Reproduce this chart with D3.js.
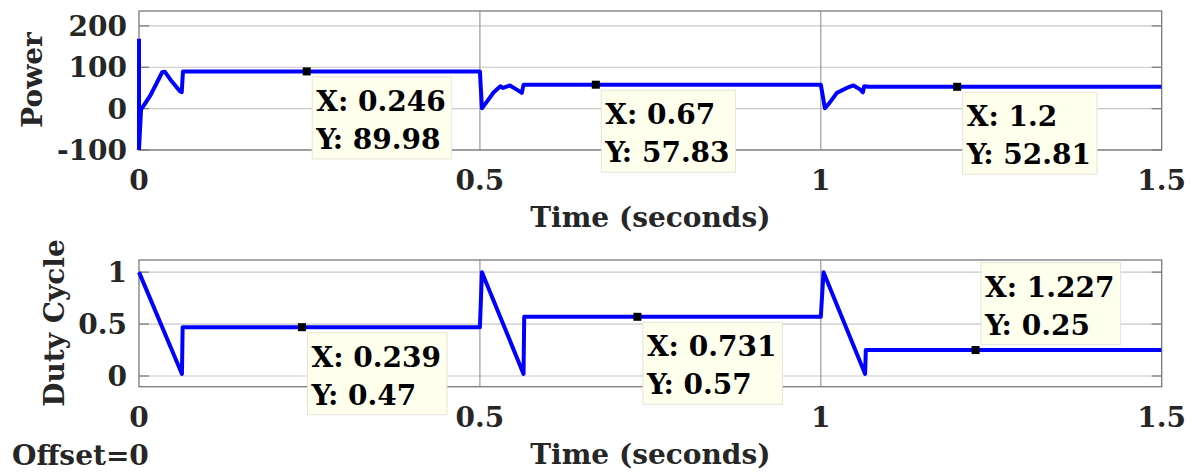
<!DOCTYPE html>
<html>
<head>
<meta charset="utf-8">
<script src="https://cdn.jsdelivr.net/npm/d3@7/dist/d3.min.js"></script>
<style>
  html, body { margin: 0; padding: 0; background: #fff; }
  svg { display: block; }
  text { font-family: "DejaVu Serif", serif; font-weight: bold; }
</style>
</head>
<body>
<svg id="chart" width="1192" height="472"></svg>
<script>
// ---------- data ----------
const xTicks = [0, 0.5, 1, 1.5];
const xTickLabels = ["0", "0.5", "1", "1.5"];

const powerTicks = [-100, 0, 100, 200];
const powerTickLabels = ["-100", "0", "100", "200"];
const powerT = [0, 0, 0.003, 0.008, 0.016, 0.026, 0.034, 0.038, 0.048, 0.060, 0.0627, 0.0645, 0.5, 0.503, 0.509, 0.520, 0.530, 0.534, 0.544, 0.554, 0.5615, 0.564, 1.0, 1.006, 1.012, 1.0235, 1.038, 1.048, 1.058, 1.0617, 1.0637, 1.07, 1.5];
const powerV = [169, -100, -2, 10, 30, 62, 88, 89, 66, 42, 40, 89.98, 89.98, 1, 14, 39, 54, 50, 56, 46, 38, 57.83, 57.83, 1, 12, 38, 50, 56, 46, 39.5, 54, 52.81, 52.81];

const dutyTicks = [0, 0.5, 1];
const dutyTickLabels = ["0", "0.5", "1"];
const dutyT = [0, 0.063, 0.064, 0.5, 0.503, 0.564, 0.565, 1.0, 1.004, 1.065, 1.066, 1.5];
const dutyV = [1, 0.02, 0.47, 0.47, 1, 0.02, 0.57, 0.57, 1, 0.02, 0.25, 0.25];

const powerTipX = [0.246, 0.67, 1.2];
const powerTipY = [89.98, 57.83, 52.81];
const powerTipXLabel = ["0.246", "0.67", "1.2"];
const powerTipYLabel = ["89.98", "57.83", "52.81"];

const dutyTipX = [0.239, 0.731, 1.227];
const dutyTipY = [0.47, 0.57, 0.25];
const dutyTipXLabel = ["0.239", "0.731", "1.227"];
const dutyTipYLabel = ["0.47", "0.57", "0.25"];

// ---------- layout ----------
const svg = d3.select("#chart");
const FS = 28;
const left = 139, right = 1161.7;

function panel(cfg) {
  const x = d3.scaleLinear().domain([0, 1.5]).range([left, right]);
  const y = d3.scaleLinear().domain(cfg.yDomain).range([cfg.bottom, cfg.top]);
  const g = svg.append("g");

  g.selectAll(".hg").data(cfg.yTicks).enter().append("line")
    .attr("x1", left).attr("x2", right)
    .attr("y1", d => y(d)).attr("y2", d => y(d))
    .attr("stroke", "#c8c8c8").attr("stroke-width", 1.2);
  g.selectAll(".vg").data(xTicks.slice(1, -1)).enter().append("line")
    .attr("x1", d => x(d)).attr("x2", d => x(d))
    .attr("y1", cfg.top).attr("y2", cfg.bottom)
    .attr("stroke", "#9a9a9a").attr("stroke-width", 1.2);

  g.selectAll(".rt").data(cfg.yTicks).enter().append("line")
    .attr("x1", right - 10).attr("x2", right)
    .attr("y1", d => y(d)).attr("y2", d => y(d))
    .attr("stroke", "#777").attr("stroke-width", 1.2);
  g.selectAll(".lt").data(cfg.yTicks).enter().append("line")
    .attr("x1", left).attr("x2", left + 10)
    .attr("y1", d => y(d)).attr("y2", d => y(d))
    .attr("stroke", "#777").attr("stroke-width", 1.2);

  g.append("rect").attr("x", left).attr("y", cfg.top)
    .attr("width", right - left).attr("height", cfg.bottom - cfg.top)
    .attr("fill", "none").attr("stroke", "#7a7a7a").attr("stroke-width", 1.3);

  const clipId = "clip" + cfg.id;
  svg.append("clipPath").attr("id", clipId).append("rect")
    .attr("x", left - 3).attr("y", cfg.top).attr("width", right - left + 3).attr("height", cfg.bottom - cfg.top);
  const line = d3.line().x(d => x(d[0])).y(d => y(d[1]));
  g.append("path").datum(d3.zip(cfg.t, cfg.v))
    .attr("clip-path", `url(#${clipId})`)
    .attr("d", line).attr("fill", "none")
    .attr("stroke", "#0000ff").attr("stroke-width", cfg.lw)
    .attr("stroke-linejoin", "round");

  g.selectAll(".xl").data(xTicks).enter().append("text")
    .attr("x", d => x(d)).attr("y", cfg.bottom + 40)
    .attr("text-anchor", "middle").attr("font-size", FS).attr("fill", "#262626")
    .text((d, i) => xTickLabels[i]);
  g.selectAll(".yl").data(cfg.yTicks).enter().append("text")
    .attr("x", 127).attr("y", d => y(d) + 10)
    .attr("text-anchor", "end").attr("font-size", FS).attr("fill", "#262626")
    .text((d, i) => cfg.yTickLabels[i]);

  g.append("text").attr("x", (left + right) / 2).attr("y", cfg.bottom + 77)
    .attr("text-anchor", "middle").attr("font-size", FS).attr("fill", "#262626")
    .text("Time (seconds)");
  g.append("text")
    .attr("transform", `translate(${cfg.ylabX},${cfg.ylabY}) rotate(-90)`)
    .attr("text-anchor", "middle").attr("font-size", FS).attr("fill", "#262626")
    .text(cfg.ylabel);

  cfg.tipX.forEach((tx, i) => {
    const mx = x(tx), my = y(cfg.tipY[i]);
    const above = cfg.above[i];
    const tg = g.append("g");
    const r = tg.append("rect");
    const t1 = tg.append("text").attr("font-size", FS).attr("fill", "#000").text("X: " + cfg.tipXL[i]);
    const t2 = tg.append("text").attr("font-size", FS).attr("fill", "#000").text("Y: " + cfg.tipYL[i]);
    const w = Math.max(t1.node().getComputedTextLength(), t2.node().getComputedTextLength()) + 10;
    const h = 82;
    const bx = mx + 5.5;
    const by = above ? my - 5.5 - h : my + 5.5;
    r.attr("x", bx).attr("y", by).attr("width", w).attr("height", h)
      .attr("fill", "#ffffee").attr("stroke", "#e4e4d8").attr("stroke-width", 1);
    t1.attr("x", bx + 4).attr("y", by + 34);
    t2.attr("x", bx + 4).attr("y", by + 72);
    g.append("rect").attr("x", mx - 4).attr("y", my - 4).attr("width", 8).attr("height", 8)
      .attr("fill", "#000");
  });
}

panel({
  id: "p", top: 11, bottom: 150, yDomain: [-100, 236],
  yTicks: powerTicks, yTickLabels: powerTickLabels,
  t: powerT, v: powerV, lw: 4,
  ylabel: "Power", ylabX: 42, ylabY: 80,
  tipX: powerTipX, tipY: powerTipY, tipXL: powerTipXLabel, tipYL: powerTipYLabel,
  above: [false, false, false]
});

panel({
  id: "d", top: 260, bottom: 386.7, yDomain: [-0.103, 1.117],
  yTicks: dutyTicks, yTickLabels: dutyTickLabels,
  t: dutyT, v: dutyV, lw: 4,
  ylabel: "Duty Cycle", ylabX: 64, ylabY: 323,
  tipX: dutyTipX, tipY: dutyTipY, tipXL: dutyTipXLabel, tipYL: dutyTipYLabel,
  above: [false, false, true]
});

svg.append("text").attr("x", 12).attr("y", 465)
  .attr("font-size", FS).attr("fill", "#262626").text("Offset=0");
</script>
</body>
</html>
